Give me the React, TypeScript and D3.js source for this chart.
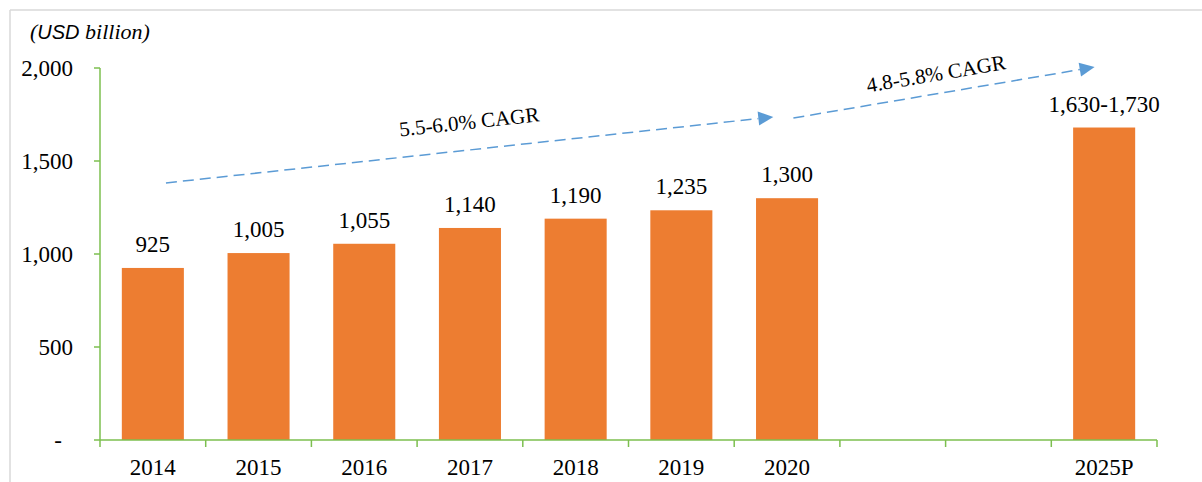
import React from "react";
import * as d3 from "d3";

const categories = ["2014", "2015", "2016", "2017", "2018", "2019", "2020", "gap1", "gap2", "2025P"];
const tickLabels = ["2014", "2015", "2016", "2017", "2018", "2019", "2020", "", "", "2025P"];
const values: (number | null)[] = [925, 1005, 1055, 1140, 1190, 1235, 1300, null, null, 1680];
const valueLabels = ["925", "1,005", "1,055", "1,140", "1,190", "1,235", "1,300", "", "", "1,630-1,730"];
const yTicks = [0, 500, 1000, 1500, 2000];
const yTickLabels = ["-", "500", "1,000", "1,500", "2,000"];
// CAGR arrows: positions in slot units / values
const cagrArrows = [
  { label: "5.5-6.0% CAGR", from: [0.124, 1382], to: [5.87, 1737], labelAt: 3.0, labelOff: 21 },
  { label: "4.8-5.8% CAGR", from: [6.06, 1731], to: [8.91, 2005], labelAt: 7.42, labelOff: 13 },
];

const W = 1202, H = 482;
const X0 = 100, X1 = 1157, Y0 = 440, Y1 = 68;
const ORANGE = "#ED7D31";
const GREEN = "#7CBF4F";
const BLUE = "#5B9BD5";
const SERIF = "Liberation Serif, DejaVu Serif, serif";
const SANS = "Liberation Sans, Arial, sans-serif";

export default function App() {
  const x = d3.scaleBand<string>().domain(categories).range([X0, X1]).paddingInner(0.413).paddingOuter(0.2065);
  const y = d3.scaleLinear().domain([0, 2000]).range([Y0, Y1]);
  const step = x.step();
  const slotX = (s: number) => X0 + step * (s + 0.5);

  return (
    <div style={{ position: "absolute", left: 0, top: 0 }}>
      <svg width={W} height={H} style={{ display: "block" }}>
        <rect x={0} y={0} width={W} height={H} fill="#fff" />
        <line x1={10} y1={10} x2={W} y2={10} stroke="#D9D9D9" strokeWidth={1.5} />
        <line x1={10} y1={10} x2={10} y2={H} stroke="#D9D9D9" strokeWidth={1.5} />

        <text x={30} y={39} fontSize={22} fontStyle="italic" fill="#000" style={{ fontFamily: SERIF }}>
          (<tspan style={{ fontFamily: SANS }} fontSize={20}>USD</tspan> billion)
        </text>

        {/* bars */}
        {categories.map((c, i) =>
          values[i] == null ? null : (
            <rect key={c} x={x(c)} y={y(values[i] as number)} width={x.bandwidth()} height={Y0 - y(values[i] as number)} fill={ORANGE} />
          )
        )}

        {/* value labels */}
        {categories.map((c, i) =>
          values[i] == null ? null : (
            <text key={"l" + c} x={(x(c) as number) + x.bandwidth() / 2} y={y(values[i] as number) - 16} textAnchor="middle" fontSize={23} style={{ fontFamily: SERIF }} fill="#000">
              {valueLabels[i]}
            </text>
          )
        )}

        {/* y axis */}
        <line x1={X0} y1={Y0} x2={X0} y2={Y1} stroke={GREEN} strokeWidth={1.5} />
        {yTicks.map((t, i) => (
          <g key={"y" + t}>
            <line x1={X0 - 6} x2={X0} y1={y(t)} y2={y(t)} stroke={GREEN} strokeWidth={1.5} />
            <text x={t === 0 ? 62 : 73} y={y(t)} dy="0.35em" textAnchor="end" fontSize={23} style={{ fontFamily: SERIF }} fill="#000">
              {yTickLabels[i]}
            </text>
          </g>
        ))}

        {/* x axis */}
        <line x1={X0} y1={Y0} x2={X1} y2={Y0} stroke={GREEN} strokeWidth={1.5} />
        {d3.range(categories.length + 1).map((k) => (
          <line key={"xt" + k} x1={X0 + k * step} x2={X0 + k * step} y1={Y0} y2={Y0 + 7} stroke={GREEN} strokeWidth={1.5} />
        ))}
        {categories.map((c, i) => (
          <text key={"xl" + c} x={(x(c) as number) + x.bandwidth() / 2} y={475} textAnchor="middle" fontSize={23} style={{ fontFamily: SERIF }} fill="#000">
            {tickLabels[i]}
          </text>
        ))}

        {/* CAGR arrows */}
        {cagrArrows.map((a, i) => {
          const x1 = slotX(a.from[0]), y1 = y(a.from[1]);
          const x2 = slotX(a.to[0]), y2 = y(a.to[1]);
          const ang = Math.atan2(y2 - y1, x2 - x1);
          const deg = (ang * 180) / Math.PI;
          const headL = 15, headW = 7;
          const bx = x2 - headL * Math.cos(ang), by = y2 - headL * Math.sin(ang);
          const px = -Math.sin(ang) * headW, py = Math.cos(ang) * headW;
          const tx = slotX(a.labelAt);
          const ty = y1 + (y2 - y1) * ((tx - x1) / (x2 - x1)) - a.labelOff;
          return (
            <g key={"a" + i}>
              <line x1={x1} y1={y1} x2={bx} y2={by} stroke={BLUE} strokeWidth={1.5} strokeDasharray="11,6" />
              <polygon points={`${x2},${y2} ${bx + px},${by + py} ${bx - px},${by - py}`} fill={BLUE} />
              <text x={tx} y={ty} transform={`rotate(${deg} ${tx} ${ty})`} textAnchor="middle" fontSize={21} style={{ fontFamily: SERIF }} fill="#000">
                {a.label}
              </text>
            </g>
          );
        })}
      </svg>
    </div>
  );
}
